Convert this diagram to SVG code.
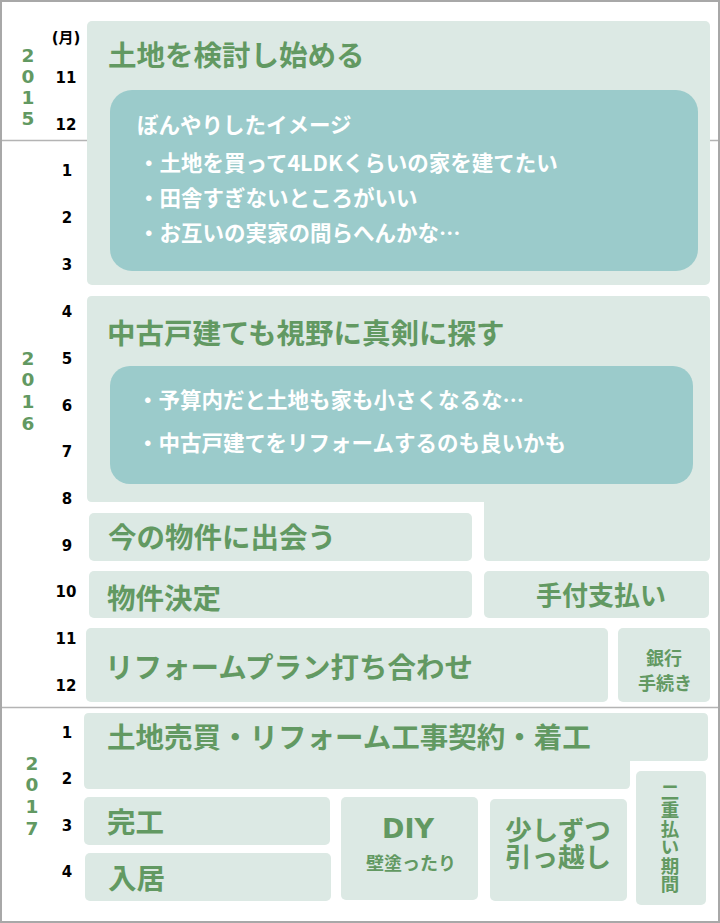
<svg xmlns="http://www.w3.org/2000/svg" width="720" height="923" viewBox="0 0 720 923">
<style>
.box{fill:#dce9e4}
.inner{fill:#9bcbcb}
.t{font-family:"Noto Sans CJK JP","Noto Sans",sans-serif;font-weight:bold;fill:#629962}
.w{font-family:"Noto Sans CJK JP","Noto Sans",sans-serif;font-weight:bold;fill:#ffffff;font-size:21.5px}
.m{font-family:"DejaVu Sans","Noto Sans CJK JP",sans-serif;font-weight:bold;font-size:15px;fill:#000;text-anchor:middle}
.y{font-family:"DejaVu Sans",sans-serif;font-weight:bold;font-size:18.5px;fill:#629962;text-anchor:middle}
.sep{stroke:#b4b4b4;stroke-width:1.5}
</style>
<rect x="0" y="0" width="720" height="923" fill="#ffffff"/>
<g id="frame">
<line class="sep" x1="0" y1="140.5" x2="720" y2="140.5"/>
<line class="sep" x1="0" y1="707.5" x2="720" y2="707.5"/>
<rect x="1" y="1" width="718" height="921" fill="none" stroke="#a8a8a8" stroke-width="2"/>
</g>
<g id="years">
<text class="y"><tspan x="28" y="62">2</tspan><tspan x="28" y="83">0</tspan><tspan x="28" y="104">1</tspan><tspan x="28" y="125">5</tspan></text>
<text class="y"><tspan x="28" y="365">2</tspan><tspan x="28" y="386">0</tspan><tspan x="28" y="408">1</tspan><tspan x="28" y="430">6</tspan></text>
<text class="y"><tspan x="32" y="770">2</tspan><tspan x="32" y="791">0</tspan><tspan x="32" y="813">1</tspan><tspan x="32" y="835">7</tspan></text>
</g>
<g id="months">
<text class="m" x="66" y="43" font-size="14">(月)</text>
<text class="m" x="66" y="83">11</text>
<text class="m" x="66" y="130">12</text>
<text class="m" x="67" y="176">1</text>
<text class="m" x="67" y="223">2</text>
<text class="m" x="67" y="270">3</text>
<text class="m" x="67" y="317">4</text>
<text class="m" x="67" y="364">5</text>
<text class="m" x="67" y="411">6</text>
<text class="m" x="67" y="457">7</text>
<text class="m" x="67" y="504">8</text>
<text class="m" x="67" y="551">9</text>
<text class="m" x="66" y="597">10</text>
<text class="m" x="66" y="644">11</text>
<text class="m" x="66" y="691">12</text>
<text class="m" x="67" y="738">1</text>
<text class="m" x="67" y="784">2</text>
<text class="m" x="67" y="831">3</text>
<text class="m" x="67" y="877">4</text>
</g>
<g id="connectors"></g>
<g id="node-kentou">
<rect class="box" x="87" y="21" width="623" height="264" rx="5"/>
<text class="t" x="108" y="66" font-size="28.5">土地を検討し始める</text>
<rect class="inner" x="110" y="90" width="588" height="181" rx="22"/>
<text class="w" x="137" y="133">ぼんやりしたイメージ</text>
<text class="w" x="138" y="171">・土地を買って4LDKくらいの家を建てたい</text>
<text class="w" x="138" y="206">・田舎すぎないところがいい</text>
<text class="w" x="138" y="241">・お互いの実家の間らへんかな…</text>
</g>
<g id="node-chuko">
<path class="box" d="M92,296 H705 Q710,296 710,301 V556 Q710,561 705,561 H489 Q484,561 484,556 V502 H92 Q87,502 87,497 V301 Q87,296 92,296 Z"/>
<text class="t" x="107" y="344" font-size="28.5">中古戸建ても視野に真剣に探す</text>
<rect class="inner" x="110" y="366" width="583" height="118" rx="20"/>
<text class="w" x="137" y="408">・予算内だと土地も家も小さくなるな…</text>
<text class="w" x="137" y="451">・中古戸建てをリフォームするのも良いかも</text>
</g>
<g id="node-deau">
<rect class="box" x="89" y="513" width="383" height="48" rx="5"/>
<text class="t" x="108" y="548" font-size="28.5">今の物件に出会う</text>
</g>
<g id="node-kettei">
<rect class="box" x="89" y="571" width="383" height="47" rx="5"/>
<text class="t" x="107" y="609" font-size="28.5">物件決定</text>
</g>
<g id="node-tetsuke">
<rect class="box" x="484" y="571" width="225" height="47" rx="5"/>
<text class="t" x="601" y="605" font-size="26" text-anchor="middle">手付支払い</text>
</g>
<g id="node-plan">
<rect class="box" x="86" y="628" width="522" height="74" rx="5"/>
<text class="t" x="105" y="678" font-size="28.5">リフォームプラン打ち合わせ</text>
</g>
<g id="node-ginko">
<rect class="box" x="618" y="628" width="92" height="74" rx="5"/>
<text class="t" font-size="18" text-anchor="middle"><tspan x="664" y="665">銀行</tspan><tspan x="665" y="690">手続き</tspan></text>
</g>
<g id="node-keiyaku">
<path class="box" d="M89,713 H703 Q708,713 708,718 V756 Q708,761 703,761 H630 V784 Q630,789 625,789 H89 Q84,789 84,784 V718 Q84,713 89,713 Z"/>
<text class="t" x="107" y="748" font-size="28.5">土地売買・リフォーム工事契約・着工</text>
</g>
<g id="node-niju">
<rect class="box" x="636" y="771" width="70" height="134" rx="5"/>
<text class="t" x="670" y="838" font-size="18.5" text-anchor="middle" style="writing-mode:vertical-rl">二重払い期間</text>
</g>
<g id="node-kanko">
<rect class="box" x="84" y="797" width="246" height="48" rx="5"/>
<text class="t" x="107" y="833" font-size="28.5">完工</text>
</g>
<g id="node-nyukyo">
<rect class="box" x="85" y="853" width="246" height="48" rx="5"/>
<text class="t" x="108" y="889" font-size="28.5">入居</text>
</g>
<g id="node-diy">
<rect class="box" x="341" y="797" width="137" height="103" rx="5"/>
<text x="408" y="838" font-size="27" text-anchor="middle" style="font-family:'DejaVu Sans',sans-serif;font-weight:bold;fill:#629962">DIY</text>
<text class="t" x="411" y="870" font-size="18" text-anchor="middle">壁塗ったり</text>
</g>
<g id="node-hikkoshi">
<rect class="box" x="490" y="799" width="137" height="102" rx="5"/>
<text class="t" font-size="26.5" text-anchor="middle"><tspan x="558" y="840">少しずつ</tspan><tspan x="558" y="867">引っ越し</tspan></text>
</g>
</svg>
